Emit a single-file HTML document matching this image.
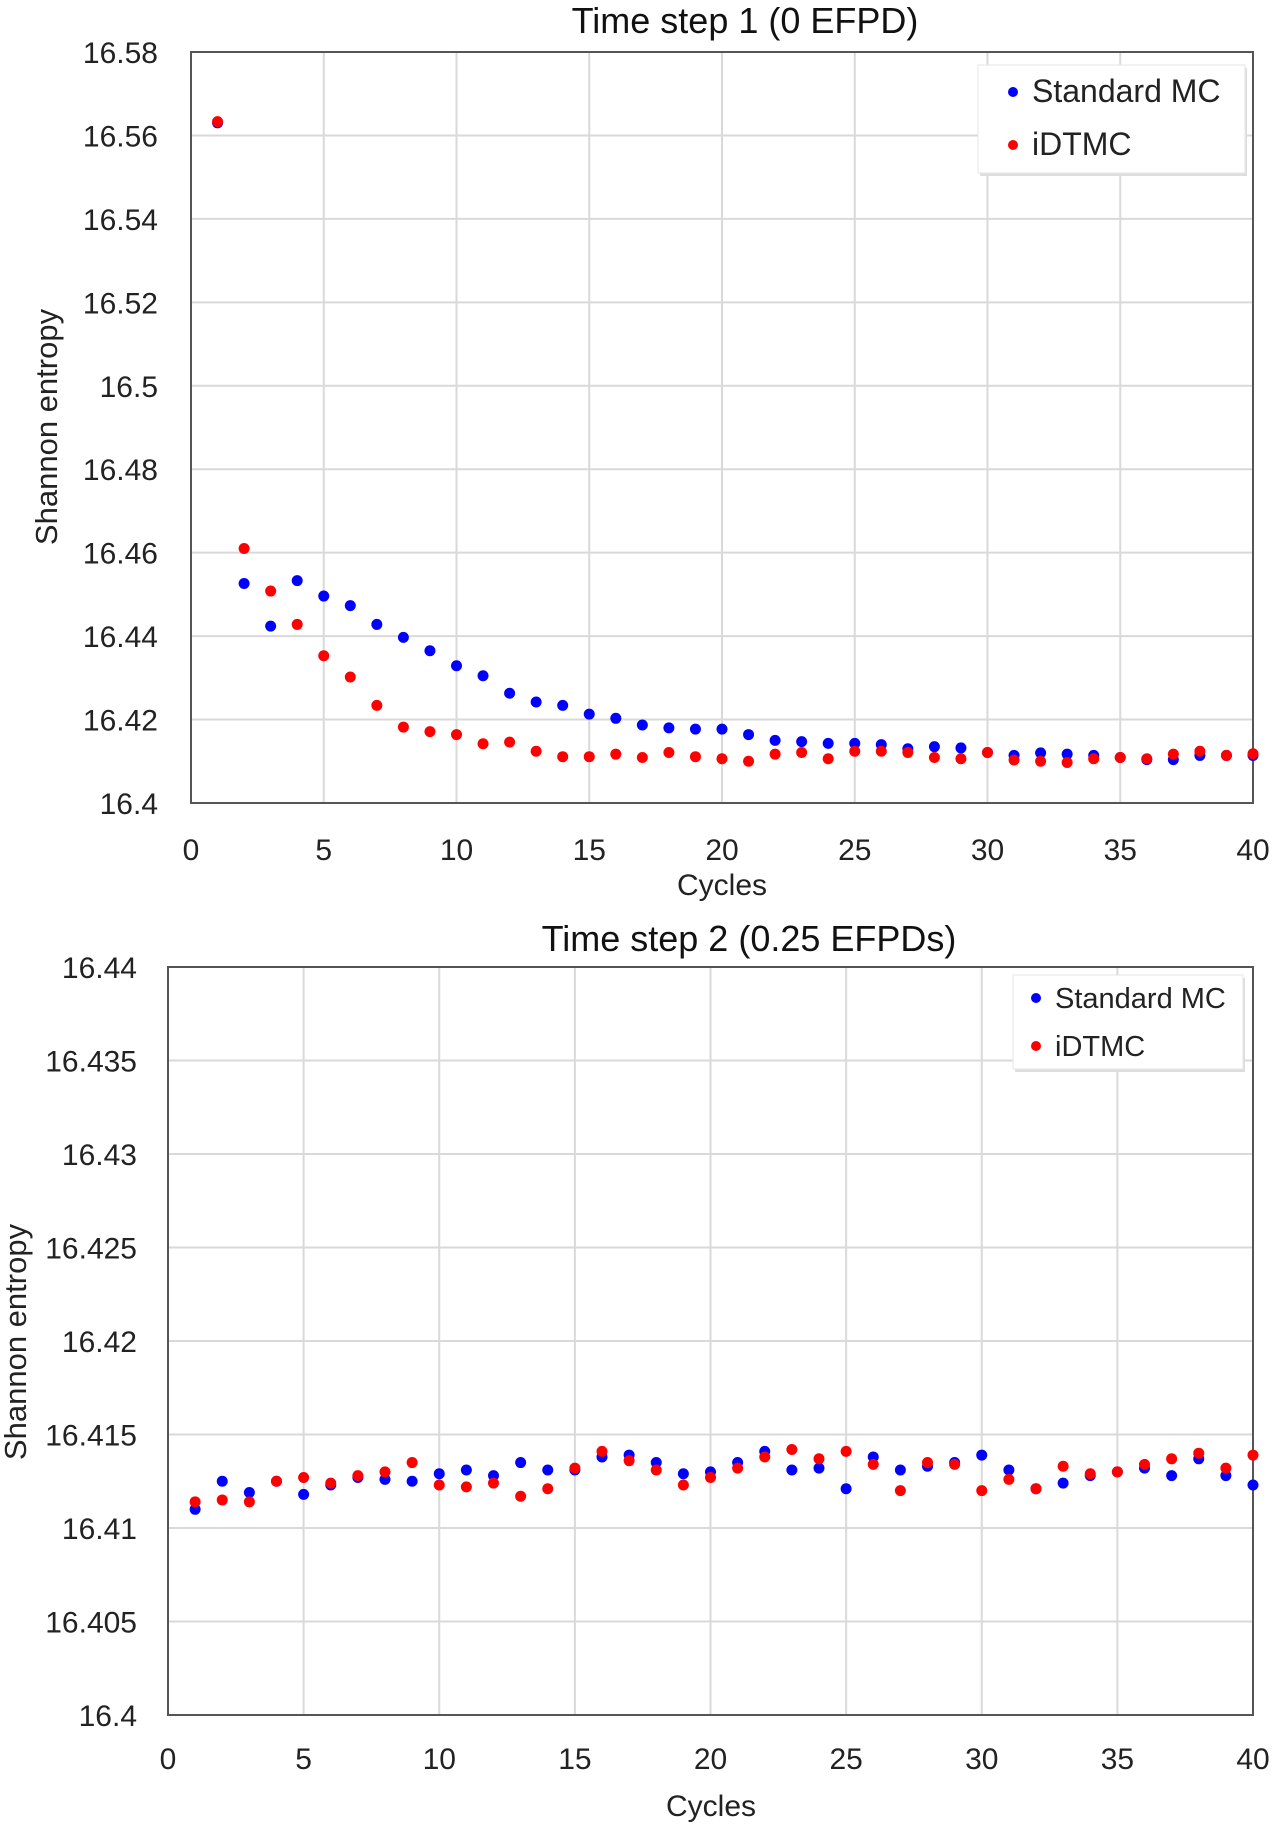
<!DOCTYPE html>
<html><head><meta charset="utf-8"><style>
html,body{margin:0;padding:0;background:#fff;}
svg{display:block;font-family:"Liberation Sans",sans-serif;}
</style></head><body>
<svg id="fig" width="1276" height="1825" viewBox="0 0 1276 1825"></svg>
<script>
const cycles = Array.from({length:40},(_,i)=>i+1);
const xTicks = [0,5,10,15,20,25,30,35,40];
const yTicks1 = [16.4,16.42,16.44,16.46,16.48,16.5,16.52,16.54,16.56,16.58];
const yTickLabels1 = ["16.4","16.42","16.44","16.46","16.48","16.5","16.52","16.54","16.56","16.58"];
const yTicks2 = [16.4,16.405,16.41,16.415,16.42,16.425,16.43,16.435,16.44];
const yTickLabels2 = ["16.4","16.405","16.41","16.415","16.42","16.425","16.43","16.435","16.44"];
const std1 = [16.563,16.4526,16.4424,16.4533,16.4496,16.4473,16.4428,16.4397,16.4365,16.4329,16.4305,16.4263,16.4242,16.4234,16.4213,16.4203,16.4187,16.418,16.4177,16.4177,16.4164,16.415,16.4147,16.4143,16.4143,16.414,16.413,16.4135,16.4132,16.4121,16.4114,16.412,16.4117,16.4114,16.4109,16.4104,16.4104,16.4114,16.4114,16.4114];
const idt1 = [16.5633,16.461,16.4508,16.4428,16.4353,16.4302,16.4234,16.4182,16.4171,16.4164,16.4142,16.4146,16.4124,16.4111,16.4111,16.4117,16.4109,16.4121,16.4111,16.4106,16.41,16.4117,16.4121,16.4106,16.4124,16.4124,16.4121,16.4109,16.4106,16.4121,16.4103,16.41,16.4097,16.4106,16.4109,16.4106,16.4117,16.4124,16.4114,16.4118];
const std2 = [16.411,16.4125,16.4119,16.4125,16.4118,16.4123,16.4127,16.4126,16.4125,16.4129,16.4131,16.4128,16.4135,16.4131,16.4131,16.4138,16.4139,16.4135,16.4129,16.413,16.4135,16.4141,16.4131,16.4132,16.4121,16.4138,16.4131,16.4133,16.4135,16.4139,16.4131,16.4121,16.4124,16.4128,16.413,16.4132,16.4128,16.4137,16.4128,16.4123];
const idt2 = [16.4114,16.4115,16.4114,16.4125,16.4127,16.4124,16.4128,16.413,16.4135,16.4123,16.4122,16.4124,16.4117,16.4121,16.4132,16.4141,16.4136,16.4131,16.4123,16.4127,16.4132,16.4138,16.4142,16.4137,16.4141,16.4134,16.412,16.4135,16.4134,16.412,16.4126,16.4121,16.4133,16.4129,16.413,16.4134,16.4137,16.414,16.4132,16.4139];

const NS="http://www.w3.org/2000/svg";
const svg=document.getElementById('fig');
function mk(tag,attrs,parent,text){const e=document.createElementNS(NS,tag);for(const k in attrs)e.setAttribute(k,attrs[k]);if(text!==undefined)e.textContent=text;(parent||svg).appendChild(e);return e;}

function chart(cfg){
  const g=mk('g',{});
  
  
  const {L,R,T,B,ymin,ymax}=cfg;
  const xs=v=>L+(v-0)/(40-0)*(R-L);
  const ys=v=>B-(v-ymin)/(ymax-ymin)*(B-T);
  cfg.yTicks.forEach((t,i)=>{
    const y=ys(t);
    const ln=mk('line',{x1:L,x2:R,y1:y,y2:y,stroke:'#d9d9d9','stroke-width':2},g);
    
    
    const tx=mk('text',{x:cfg.yLabelX,y:y+11,'text-anchor':'end','font-size':30,fill:'#222'},g,cfg.yLabels[i]);
    
    
  });
  xTicks.forEach(t=>{
    const x=xs(t);
    const ln=mk('line',{x1:x,x2:x,y1:T,y2:B,stroke:'#d9d9d9','stroke-width':2},g);
    
    
    const tx=mk('text',{x:x,y:cfg.xLabelY,'text-anchor':'middle','font-size':30,fill:'#222'},g,String(t));
    
    
  });
  const fr=mk('rect',{x:L,y:T,width:R-L,height:B-T,fill:'none',stroke:'#555','stroke-width':2},g);
  
  
  [[cfg.std,'#0000ff','standard-mc-point'],[cfg.idt,'#ff0000','idtmc-point']].forEach(([arr,col,nm])=>{
    arr.forEach((v,i)=>{
      const c=mk('circle',{cx:xs(cycles[i]),cy:ys(v),r:5.5,fill:col},g);
      
      
    });
  });
  const ti=mk('text',{x:cfg.titleX,y:cfg.titleY,'text-anchor':'middle','font-size':36,fill:'#111'},g,cfg.title);
  
  
  const xt=mk('text',{x:cfg.xTitleX,y:cfg.xTitleY,'text-anchor':'middle','font-size':30,fill:'#222'},g,'Cycles');
  
  
  const yt=mk('text',{x:0,y:0,'text-anchor':'middle','font-size':31,fill:'#222',transform:`translate(${cfg.yTitleX},${cfg.yTitleY}) rotate(-90)`},g,'Shannon entropy');
  
  
  const lg=mk('g',{},g);
  
  
  mk('rect',{x:cfg.lg.x+2,y:cfg.lg.y+3,width:cfg.lg.w,height:cfg.lg.h,fill:'#ddd'},lg);
  mk('rect',{x:cfg.lg.x,y:cfg.lg.y,width:cfg.lg.w,height:cfg.lg.h,fill:'#fff',stroke:'#e6e6e6'},lg);
  [['Standard MC','#0000ff',cfg.lg.e1],['iDTMC','#ff0000',cfg.lg.e2]].forEach(([t,col,y])=>{
    const e=mk('g',{},lg);
    
    
    mk('circle',{cx:cfg.lg.dx,cy:y,r:5,fill:col},e);
    mk('text',{x:cfg.lg.tx,y:y+10,'font-size':cfg.lg.fs,fill:'#222'},e,t);
  });
}
chart({name:'chart-time-step-1',L:191,R:1253,T:52,B:803,ymin:16.4,ymax:16.58,yTicks:yTicks1,yLabels:yTickLabels1,yLabelX:158,xLabelY:860,
  std:std1,idt:idt1,title:'Time step 1 (0 EFPD)',titleX:745,titleY:33,xTitleX:722,xTitleY:895,yTitleX:57,yTitleY:427,
  lg:{x:978,y:65,w:267,h:108,e1:92,e2:145,dx:1013,tx:1032,fs:32}});
chart({name:'chart-time-step-2',L:168,R:1253,T:967,B:1715,ymin:16.4,ymax:16.44,yTicks:yTicks2,yLabels:yTickLabels2,yLabelX:137,xLabelY:1769,
  std:std2,idt:idt2,title:'Time step 2 (0.25 EFPDs)',titleX:749,titleY:951,xTitleX:711,xTitleY:1816,yTitleX:26,yTitleY:1342,
  lg:{x:1013,y:975,w:230,h:94,e1:998,e2:1046,dx:1036,tx:1055,fs:29}});
</script>
</body></html>
